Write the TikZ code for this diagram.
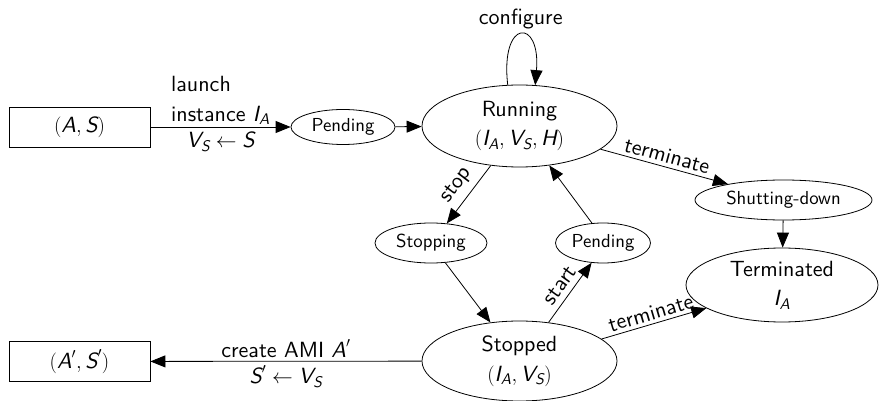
\documentclass[tikz,border=0pt]{standalone}
\usepackage{amsmath}
\usepackage{fontspec}
\setsansfont{lmsans10}[Extension=.otf,UprightFont=*-regular,ItalicFont=*-oblique,BoldFont=*-bold]
\usetikzlibrary{arrows.meta,shapes.geometric}
\renewcommand{\familydefault}{\sfdefault}
% italic sans letters inside formulas
\newcommand{\mi}[1]{\text{\itshape #1}}
\begin{document}
\begin{tikzpicture}[x=1pt,y=-1pt,
  font=\sffamily\fontsize{22}{29.5}\selectfont,
  every path/.style={line width=0.8pt},
  >={Triangle[length=15pt,width=12pt]},
  state/.style={draw,ellipse,inner sep=0pt},
  small/.style={font=\sffamily\fontsize{18.8}{22}\selectfont},
  artifact/.style={draw,rectangle,inner sep=0pt,minimum width=141pt,minimum height=40pt}]
\useasboundingbox (0,0) rectangle (879,401);

% artifacts
\node[artifact] (amiA) at (79.5,127) {$(\mi{A},\mi{S})$};
\node[artifact] (amiB) at (79.5,361.5) {$(\mi{A}',\mi{S}')$};

% instance states
\node[state,small,minimum width=104pt,minimum height=35pt] (pendA) at (343,127) {Pending};
\node[state,minimum width=195pt,minimum height=82pt,align=center] (run) at (519.5,126) {Running\\$(\mi{I}_{\mi{A}},\mi{V}_{\mi{S}},\mi{H})$};
\node[state,small,minimum width=177pt,minimum height=40pt] (shut) at (783.5,200) {Shutting-down};
\node[state,minimum width=192pt,minimum height=74pt,align=center] (term) at (782,285) {Terminated\\$\mi{I}_{\mi{A}}$};
\node[state,small,minimum width=112pt,minimum height=40pt] (stopping) at (431,243) {Stopping};
\node[state,small,minimum width=95pt,minimum height=40pt] (pendB) at (603,243) {Pending};
\node[state,minimum width=195pt,minimum height=80pt,align=center] (stopped) at (519.5,361) {Stopped\\$(\mi{I}_{\mi{A}},\mi{V}_{\mi{S}})$};

% transitions
\draw[->] (amiA) -- (pendA)
  node[midway,above,align=left,inner sep=2pt] {launch\\instance $\mi{I}_{\mi{A}}$}
  node[midway,below,inner sep=4pt] {$\mi{V}_{\mi{S}}\leftarrow \mi{S}$};
\draw[->] (pendA) -- (run);
\draw[->] (run.106) .. controls (500,18) and (541,18) .. (run.69)
  node[pos=0.5,above=2pt] {configure};
\draw[->] (run.-16) -- (shut.164) node[midway,sloped,above] {terminate};
\draw[->] (shut) -- (term);
\draw[->] (run.-126) -- (stopping.51) node[midway,sloped,above=3pt] {stop};
\draw[->] (stopping.-54) -- (stopped.127);
\draw[->] (stopped.53) -- (pendB.-120) node[midway,sloped,above=2pt] {start};
\draw[->] (pendB.119) -- (run.-53);
\draw[->] (stopped.15) -- (term.-163) node[midway,sloped,above] {terminate};
\draw[->] (stopped) -- (amiB)
  node[midway,above] {create AMI $\mi{A}'$}
  node[midway,below,inner sep=4pt] {$\mi{S}'\leftarrow \mi{V}_{\mi{S}}$};
\end{tikzpicture}
\end{document}
